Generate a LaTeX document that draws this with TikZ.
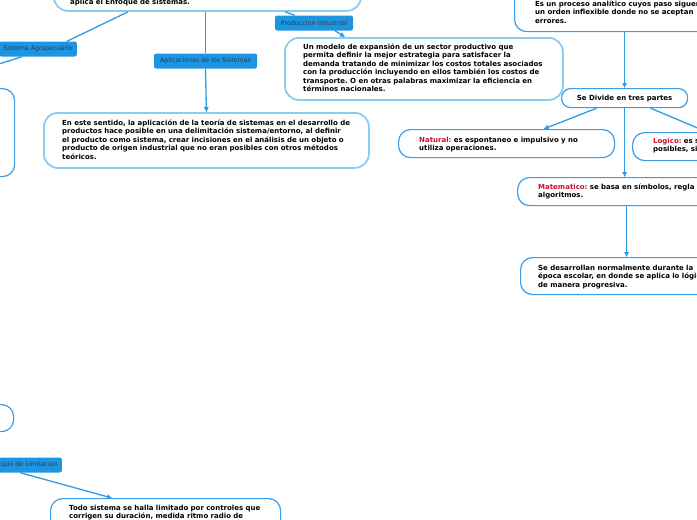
\documentclass[tikz,border=0pt]{standalone}
\usepackage{fontspec}
\setmainfont{DejaVu Sans}
\usetikzlibrary{arrows.meta}
\definecolor{mmline}{HTML}{2E9CE4}
\definecolor{mmlight}{HTML}{8CCBF2}
\definecolor{mmblue}{HTML}{3A9EE6}
\definecolor{mmtopic}{HTML}{1E95E0}
\definecolor{mmtopictext}{HTML}{263E55}
\definecolor{mmred}{HTML}{C8102E}
\newcommand{\boxfont}{\fontsize{7}{8.4}\selectfont\bfseries\frenchspacing}
\newcommand{\topicfont}{\fontsize{6.3}{7}\selectfont}
\newcommand{\keyword}[1]{\textcolor{mmred}{#1}}

\begin{document}
\begin{tikzpicture}[x=1pt,y=-1pt,
  lightbox/.style={draw=mmlight,line width=1.8pt,rounded corners=14pt,fill=white,inner sep=0pt,anchor=north west},
  darkbox/.style={draw=mmblue,line width=1.2pt,rounded corners=12pt,fill=white,inner sep=0pt,anchor=north west},
  boxtext/.style={font=\boxfont,align=left,text width=#1,inner sep=0pt,anchor=base west},
  boxtext/.default=340pt,
  topic/.style={fill=mmtopic,text=mmtopictext,font=\topicfont,rounded corners=2pt,inner xsep=4pt,inner ysep=0pt,minimum height=15pt},
  link/.style={draw=mmline,line width=1.3pt},
  arr/.style={link,-{Triangle[length=5pt,width=4.5pt]}}]
  % pixel frame, y grows downwards
  \useasboundingbox (0,0) rectangle (697,520);
  \clip (0,0) rectangle (697,520);

  % boxes
  \node[lightbox,minimum width=307pt,minimum height=55pt] (top) at (53,-45) {};
  \node[boxtext] (toptxt) at (70,4) {aplica el Enfoque de sistemas.};
  \node[lightbox,minimum width=278pt,minimum height=62pt] (modelo) at (284,37) {};
  \node[boxtext] (modelotxt) at (303,49.5) {Un modelo de expansión de un sector productivo que\\
    permita definir la mejor estrategia para satisfacer la\\
    demanda tratando de minimizar los costos totales asociados\\
    con la producción incluyendo en ellos también los costos de\\
    transporte. O en otras palabras maximizar la eficiencia en\\
    términos nacionales.};
  \node[lightbox,minimum width=325pt,minimum height=55pt] (sentido) at (43,112) {};
  \node[boxtext] (sentidotxt) at (62,125.5) {En este sentido, la aplicación de la teoría de sistemas en el desarrollo de\\
    productos hace posible en una delimitación sistema/entorno, al definir\\
    el producto como sistema, crear incisiones en el análisis de un objeto o\\
    producto de origen industrial que no eran posibles con otros métodos\\
    teóricos.};
  \node[darkbox,minimum width=74pt,minimum height=88pt] (lefta) at (-60,88) {};
  \node[darkbox,minimum width=73pt,minimum height=27pt] (leftb) at (-60,404) {};

  \node[darkbox,minimum width=206pt,minimum height=61pt] (proceso) at (514,-30) {};
  \node[boxtext] (procesotxt) at (535,6.5) {Es un proceso analítico cuyos paso siguen\\
    un orden inflexible donde no se aceptan\\
    errores.};
  \node[darkbox,rounded corners=9pt,minimum width=126pt,minimum height=19pt] (divide) at (561,88) {};
  \node[font=\boxfont,inner sep=0pt] (dividetxt) at (divide.center) {Se Divide en tres partes};
  \node[darkbox,minimum width=216pt,minimum height=28pt] (natural) at (398,129) {};
  \node[boxtext] (naturaltxt) at (419,142.5) {\keyword{Natural:} es espontaneo e impulsivo y no\\
    utiliza operaciones.};
  \node[darkbox,minimum width=128pt,minimum height=28pt] (logico) at (632,132) {};
  \node[boxtext] (logicotxt) at (653,143.5) {\keyword{Logico:} es s\\
    posibles, si};
  \node[darkbox,minimum width=243pt,minimum height=28pt] (matematico) at (517,177) {};
  \node[boxtext] (matematicotxt) at (538,189.5) {\keyword{Matematico:} se basa en símbolos, regla y\\
    algoritmos.};
  \node[darkbox,minimum width=240pt,minimum height=37pt] (desarrollan) at (520,257) {};
  \node[boxtext] (desarrollantxt) at (538,270.5) {Se desarrollan normalmente durante la\\
    época escolar, en donde se aplica lo lógico\\
    de manera progresiva.};
  \node[darkbox,minimum width=230pt,minimum height=62pt] (todo) at (50,498) {};
  \node[boxtext] (todotxt) at (69,510.5) {Todo sistema se halla limitado por controles que\\
    corrigen su duración, medida ritmo radio de};

  % topics
  \node[topic,anchor=east] (agro) at (77,49) {Sistema Agropecuario};
  \node[topic,minimum width=103pt] (aplic) at (205.5,61) {Aplicaciones de los Sistemas};
  \node[topic,minimum width=78pt] (prod) at (314,23) {Produccion Industrial};
  \node[topic,anchor=east] (limit) at (62,465) {Principio de Limitacion};

  % connectors
  \coordinate (agroend) at (-20,70);
  \draw[link] ([xshift=75pt]top.south west) -- ([xshift=-10pt]agro.north east);
  \draw[link] ([xshift=-16pt]agro.south) -- (agroend);
  \draw[link] (top.south -| aplic.north) -- (aplic.north);
  \draw[arr] (aplic.south) -- (sentido.north);
  \draw[link] ([xshift=232pt]top.south west) -- ([xshift=20pt]prod.north west);
  \draw[arr] ([xshift=21pt]prod.south) -- ([xshift=61pt]modelo.north west);
  \draw[arr] (proceso.south -| divide.north) -- (divide.north);
  \draw[arr] ([xshift=-28pt]divide.south) -- (natural);
  \draw[arr] (divide.south) -- (divide.south |- matematico.north);
  \draw[arr] ([xshift=26pt]divide.south) -- ([xshift=75pt]logico.north west);
  \draw[arr] ([xshift=2pt]divide.south |- matematico.south) -- ([xshift=2pt]divide.south |- desarrollan.north);
  \draw[arr] ([xshift=-2pt]limit.south) -- ([xshift=62pt]todo.north west);
\end{tikzpicture}
\end{document}
